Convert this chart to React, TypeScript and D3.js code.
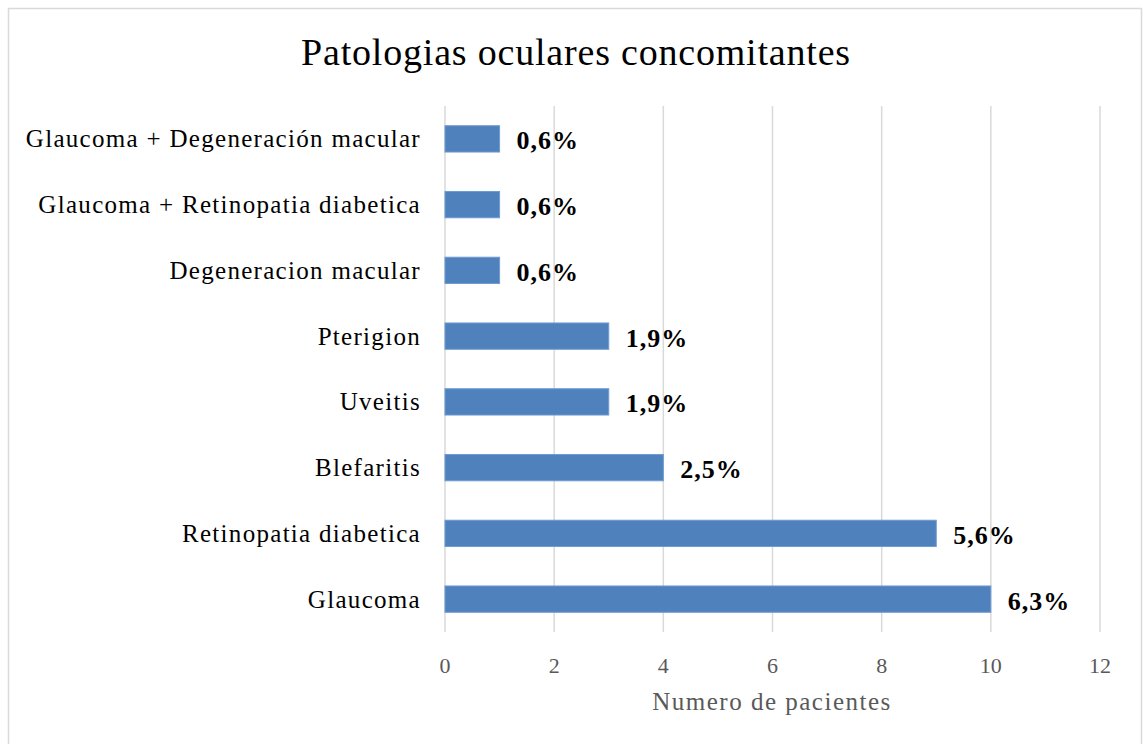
import React from "react";
import * as d3 from "d3";

const categories = [
  "Glaucoma + Degeneración macular",
  "Glaucoma + Retinopatia diabetica",
  "Degeneracion macular",
  "Pterigion",
  "Uveitis",
  "Blefaritis",
  "Retinopatia diabetica",
  "Glaucoma",
];
const values = [1, 1, 1, 3, 3, 4, 9, 10];
const percentLabels = ["0,6%", "0,6%", "0,6%", "1,9%", "1,9%", "2,5%", "5,6%", "6,3%"];
const xTicks = [0, 2, 4, 6, 8, 10, 12];

const W = 1143;
const H = 744;
const FONT = "'Liberation Serif', 'DejaVu Serif', serif";

export default function App() {
  const x = d3.scaleLinear().domain([0, 12]).range([445, 1100]);
  const y = d3.scaleBand<string>().domain(categories).range([106, 632]).paddingInner(0.6).paddingOuter(0.3);

  return (
    <svg width={W} height={H} style={{ position: "absolute", left: 0, top: 0, background: "#fff" }}>
      <rect x={8.5} y={8.5} width={1133} height={760} fill="#fff" stroke="#d9d9d9" strokeWidth={1.5} />
      <text x={576} y={52} textAnchor="middle" dominantBaseline="central" fontFamily={FONT} fontSize={38} letterSpacing={0.8} fill="#000">
        Patologias oculares concomitantes
      </text>
      {xTicks.map((t) => (
        <line key={"g" + t} x1={x(t)} x2={x(t)} y1={106} y2={632} stroke="#d9d9d9" strokeWidth={1.5} />
      ))}
      {categories.map((c, i) => {
        const by = y(c)!;
        const bh = y.bandwidth();
        return (
          <g key={c}>
            <rect x={x(0)} y={by} width={x(values[i]) - x(0)} height={bh} fill="#4f81bd" stroke="#6f9bd1" strokeWidth={1} />
            <text x={421} y={by + bh / 2} textAnchor="end" dominantBaseline="central" fontFamily={FONT} fontSize={25} letterSpacing={1.3} fill="#000">
              {c}
            </text>
            <text x={x(values[i]) + 17} y={by + bh / 2 + 2} dominantBaseline="central" fontFamily={FONT} fontSize={26} letterSpacing={1} fontWeight="bold" fill="#000">
              {percentLabels[i]}
            </text>
          </g>
        );
      })}
      {xTicks.map((t) => (
        <text key={"t" + t} x={x(t)} y={665} textAnchor="middle" dominantBaseline="central" fontFamily={FONT} fontSize={22} fill="#595959">
          {t}
        </text>
      ))}
      <text x={772} y={701} textAnchor="middle" dominantBaseline="central" fontFamily={FONT} fontSize={25} letterSpacing={1.5} fill="#595959">
        Numero de pacientes
      </text>
    </svg>
  );
}
